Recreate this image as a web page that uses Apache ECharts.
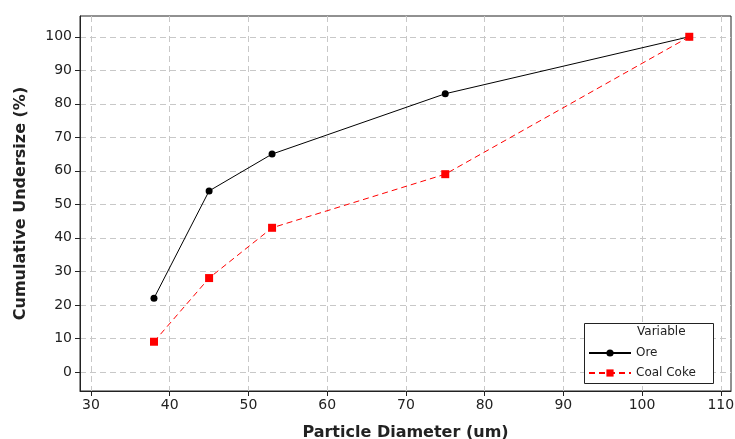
<!DOCTYPE html>
<html>
<head>
<meta charset="utf-8">
<script src="https://cdn.jsdelivr.net/npm/echarts@6/dist/echarts.min.js"></script>
<style>
  html, body { margin: 0; padding: 0; background: #fff; }
  #main { width: 735px; height: 439px; }
</style>
</head>
<body>
<div id="main"></div>
<script>
    // values
    var diameters = [38, 45, 53, 75, 106];
    var oreValues = [22, 54, 65, 83, 100];
    var cokeValues = [9, 28, 43, 59, 100];
    var xTicks = [30, 40, 50, 60, 70, 80, 90, 100, 110];
    var yTicks = [0, 10, 20, 30, 40, 50, 60, 70, 80, 90, 100];

    function pairs(xs, ys) {
        var out = [];
        for (var i = 0; i < xs.length; i++) out.push([xs[i], ys[i]]);
        return out;
    }

    var font = 'DejaVu Sans';
    var chart = echarts.init(document.getElementById('main'));

    var option = {
        animation: false,
        backgroundColor: '#fff',
        grid: {
            left: 80, top: 16, right: 4, bottom: 48,
            outerBoundsMode: 'none',
            containLabel: false,
            show: true, borderColor: '#222', borderWidth: 1
        },
        xAxis: {
            type: 'value',
            min: 28.6, max: 111.3,
            name: 'Particle Diameter (um)',
            nameLocation: 'middle',
            nameGap: 34,
            nameTextStyle: { fontFamily: font, fontWeight: 'bold', fontSize: 16, color: '#222' },
            axisLine: { onZero: false, lineStyle: { color: '#222' } },
            axisTick: { customValues: xTicks, length: 5, lineStyle: { color: '#222' } },
            axisLabel: { customValues: xTicks, fontFamily: font, fontSize: 14, color: '#222', margin: 7 },
            splitLine: { show: true, lineStyle: { color: '#c8c8c8', type: [6, 4] } }
        },
        yAxis: {
            type: 'value',
            min: -5.7, max: 106.2,
            name: 'Cumulative Undersize (%)',
            nameLocation: 'middle',
            nameGap: 51,
            nameTextStyle: { fontFamily: font, fontWeight: 'bold', fontSize: 16, color: '#222' },
            axisLine: { show: true, onZero: false, lineStyle: { color: '#222' } },
            axisTick: { show: true, customValues: yTicks, length: 5, lineStyle: { color: '#222' } },
            axisLabel: { customValues: yTicks, fontFamily: font, fontSize: 14, color: '#222', margin: 8 },
            splitLine: { show: true, lineStyle: { color: '#c8c8c8', type: [6, 4] } }
        },
        legend: {
            orient: 'vertical',
            left: 588, top: 347,
            padding: 0,
            itemWidth: 42, itemHeight: 9, itemGap: 8,
            textStyle: { fontFamily: font, fontSize: 12, color: '#222' },
            data: ['Ore', 'Coal Coke'],
            z: 20
        },
        graphic: [
            {
                type: 'rect',
                shape: { x: 584.5, y: 323.5, width: 129, height: 60 },
                style: { fill: '#fff', stroke: '#222', lineWidth: 1 },
                z: 10
            },
            {
                type: 'text',
                left: 637, top: 326,
                style: { text: 'Variable', font: '12px "DejaVu Sans"', fill: '#222' },
                z: 11
            }
        ],
        series: [
            {
                name: 'Ore',
                type: 'line',
                data: pairs(diameters, oreValues),
                symbol: 'circle',
                symbolSize: 7,
                itemStyle: { color: '#000' },
                lineStyle: { color: '#000', width: 1 },
                z: 3
            },
            {
                name: 'Coal Coke',
                type: 'line',
                data: pairs(diameters, cokeValues),
                symbol: 'rect',
                symbolSize: 8,
                itemStyle: { color: '#ff0000' },
                lineStyle: { color: '#ff0000', width: 1, type: [6, 4] },
                z: 4
            }
        ]
    };

    chart.setOption(option);
</script>
</body>
</html>
